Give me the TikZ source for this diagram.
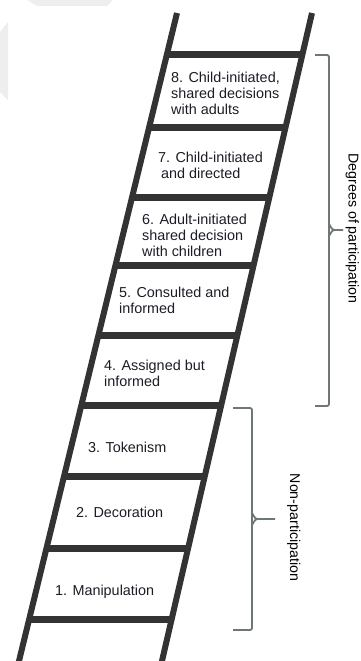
\documentclass[tikz,border=0pt]{standalone}
\usepackage{fontspec}
\setmainfont{Liberation Sans}
\usetikzlibrary{calc}
\definecolor{railgray}{HTML}{333333}
\definecolor{bracegray}{HTML}{6E7677}
\definecolor{inkdark}{HTML}{1C1C26}
\definecolor{haze}{HTML}{EEEEEE}
\begin{document}
\begin{tikzpicture}[x=1pt,y=-1pt,
  rail/.style={draw=railgray, line width=6pt},
  rung/.style={draw=railgray, line width=7pt},
  % multi-line labels sit on the baseline of their last line
  steptext/.style={anchor=base west, align=left, inner sep=0pt, text=inkdark,
    font=\fontsize{14.4}{16}\selectfont},
  bracket/.style={draw=bracegray, line width=1.8pt, rounded corners=2pt},
  bracelabel/.style={anchor=base, rotate=-90, inner sep=0pt, text=black,
    font=\fontsize{14.2}{16}\selectfont}]
\useasboundingbox (0,0) rectangle (360,661);

% faint background marks in the upper left corner
\fill[haze] (27,0) -- (113,0) -- (107,6) -- (37,6) -- cycle;
\fill[haze] (0,32) -- (8,22) -- (8,100) -- (0,92) -- cycle;

% ladder rails (end points)
\coordinate (LT) at (177,13);
\coordinate (LB) at (16.8,670);
\coordinate (RT) at (312,13);
\coordinate (RB) at (159.9,670);

% rungs
\foreach \yy in {55,128,197,266,336,406,476,548,619} {
  \pgfmathsetmacro\rt{(\yy-13)/657}
  \draw[rung] ($(LT)!\rt!(LB)$) -- ($(RT)!\rt!(RB)$);
}

% rails
\draw[rail] (LT) -- (LB);
\draw[rail] (RT) -- (RB);

% step labels
\node[steptext] (s8) at (171,114) {8. Child-initiated,\\shared decisions\\with adults};
\node[steptext] (s7) at (158,178.5) {7. Child-initiated\\\hspace{3pt}and directed};
\node[steptext] (s6) at (142,256) {6. Adult-initiated\\shared decision\\with children};
\node[steptext] (s5) at (119,313) {5. Consulted and\\informed};
\node[steptext] (s4) at (104,386) {4. Assigned but\\informed};
\node[steptext] (s3) at (88,452) {3. Tokenism};
\node[steptext] (s2) at (76,517) {2. Decoration};
\node[steptext] (s1) at (55,595) {1. Manipulation};

% bracket: degrees of participation
\draw[bracket] (315,55) -- (329,55) -- (329,406) -- (315,406);
\draw[bracket, rounded corners=0pt] (329,225) to[out=90,in=180] (334,230) -- (343,230);
\draw[bracket, rounded corners=0pt] (329,235) to[out=-90,in=180] (334,230);
\node[bracelabel] (deg) at (348.5,228.5) {Degrees of participation};

% bracket: non-participation
\draw[bracket] (233,408) -- (252,408) -- (252,630) -- (233,630);
\draw[bracket, rounded corners=0pt] (252,514) to[out=90,in=180] (257,519) -- (275,519);
\draw[bracket, rounded corners=0pt] (252,524) to[out=-90,in=180] (257,519);
\node[bracelabel] (non) at (290,527.5) {Non-participation};
\end{tikzpicture}
\end{document}
